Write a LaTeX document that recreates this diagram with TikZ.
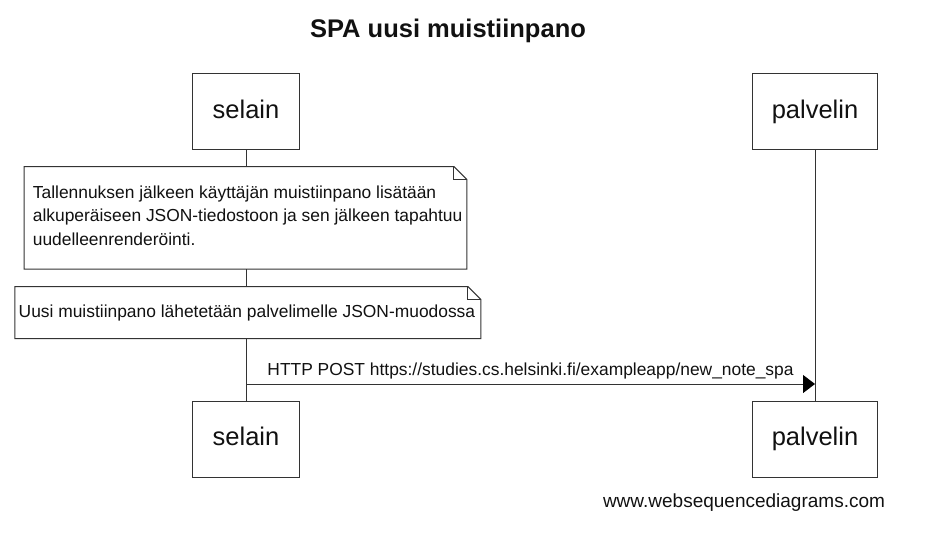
\documentclass[tikz,border=0pt]{standalone}
\usepackage{fontspec}
\setmainfont{Liberation Sans}
\usetikzlibrary{arrows.meta,backgrounds}
\definecolor{linec}{RGB}{51,51,51}
\definecolor{textc}{RGB}{17,17,17}
\tikzset{
  actor/.style={draw=linec, line width=1.1pt, fill=white, inner sep=0pt,
    minimum height=75.6pt, text=textc, text height=18.5pt, text depth=5.5pt,
    font=\fontsize{25.5}{30}\selectfont},
  notebox/.style={fill=white, draw=none, inner sep=0pt},
  notetext/.style={inner sep=0pt, text=textc, align=left,
    font=\fontsize{17.4}{23.7}\selectfont},
  noteline/.style={draw=linec, line width=1pt},
  lifeline/.style={draw=linec, line width=1pt},
  msg/.style={draw=linec, line width=1pt, -{Triangle[length=12pt,width=18pt,color=black]}},
}
\begin{document}
\begin{tikzpicture}[x=1pt,y=-1pt]
\useasboundingbox (0,0) rectangle (936,552);
% title
\node[font=\bfseries\fontsize{25.5}{30}\selectfont, text=textc] (title) at (448,31) {SPA uusi muistiinpano};
% actors top
\node[actor, minimum width=107pt] (s1) at (246,111.5) {selain};
\node[actor, minimum width=125.4pt] (p1) at (815,111.5) {palvelin};
% actors bottom
\node[actor, minimum width=107pt] (s2) at (246,439.3) {selain};
\node[actor, minimum width=125.4pt] (p2) at (815,439.3) {palvelin};
% lifelines
\begin{scope}[on background layer]
\draw[lifeline] (s1.south) -- (s2.north);
\draw[lifeline] (p1.south) -- (p2.north);
\end{scope}
% note 1
\node[notebox, minimum width=442.4pt, minimum height=102.3pt] (n1) at (245.5,217.85) {};
\draw[noteline] (n1.south west) -- (n1.north west) -- ([xshift=-13pt]n1.north east) -- ([yshift=-13pt]n1.north east) -- (n1.south east) -- cycle;
\draw[noteline] ([xshift=-13pt]n1.north east) -- ([xshift=-13pt,yshift=-13pt]n1.north east) -- ([yshift=-13pt]n1.north east);
\node[notetext, anchor=west] (n1t) at (32.7,215.5)
  {Tallennuksen jälkeen käyttäjän muistiinpano lisätään\\alkuperäiseen JSON-tiedostoon ja sen jälkeen tapahtuu\\uudelleenrenderöinti.};
% note 2
\node[notebox, minimum width=465.7pt, minimum height=51.6pt] (n2) at (247.85,312.5) {};
\draw[noteline] (n2.south west) -- (n2.north west) -- ([xshift=-13pt]n2.north east) -- ([yshift=-13pt]n2.north east) -- (n2.south east) -- cycle;
\draw[noteline] ([xshift=-13pt]n2.north east) -- ([xshift=-13pt,yshift=-13pt]n2.north east) -- ([yshift=-13pt]n2.north east);
\node[notetext, anchor=west] (n2t) at (18.5,313) {Uusi muistiinpano lähetetään palvelimelle JSON-muodossa};
% message
\coordinate (m1) at (246,384);
\coordinate (m2) at (815,384);
\draw[msg] (m1) -- (m2) node[midway, above=1.5pt, text=textc, font=\fontsize{17.4}{20}\selectfont] (ml) {HTTP POST https://studies.cs.helsinki.fi/exampleapp/new\_note\_spa};
% watermark
\node[text=textc, font=\fontsize{19}{22}\selectfont] (wm) at (744,503) {www.websequencediagrams.com};
\end{tikzpicture}
\end{document}
